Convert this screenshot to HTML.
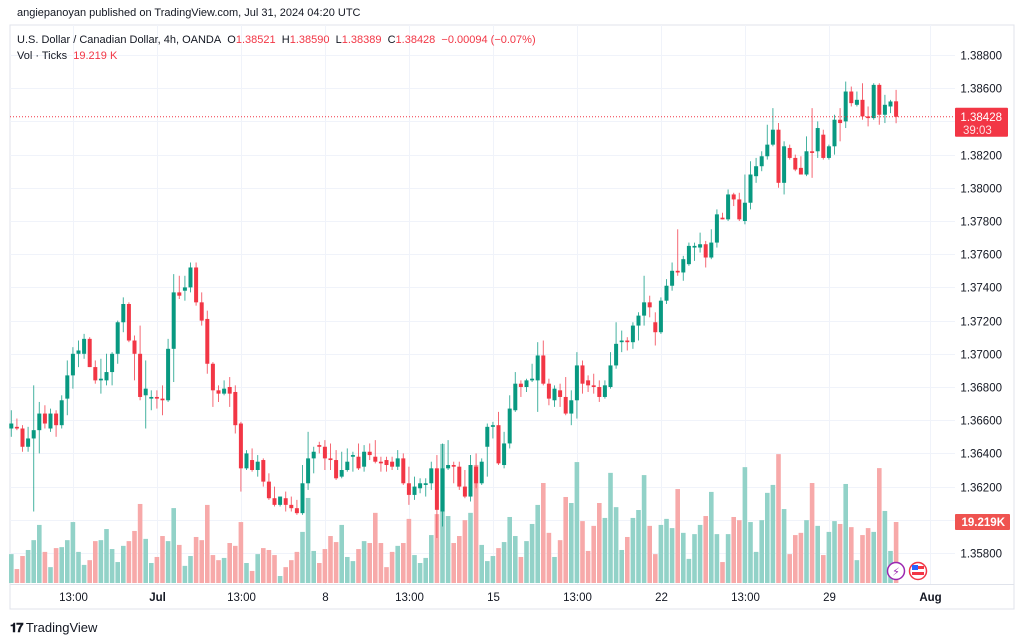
<!DOCTYPE html>
<html><head><meta charset="utf-8">
<style>
html,body{margin:0;padding:0;background:#fff;width:1024px;height:643px;overflow:hidden;font-family:"Liberation Sans",sans-serif;}
#wrap{position:relative;width:1024px;height:643px;}
.t{position:absolute;white-space:nowrap;}
</style></head>
<body><div id="wrap">
<div class="t" style="left:17px;top:7px;font-size:11px;color:#131722;">angiepanoyan published on TradingView.com, Jul 31, 2024 04:20 UTC</div>
<svg id="chart" width="1024" height="643" style="position:absolute;left:0;top:0"></svg>
<div class="t" style="left:17px;top:34px;font-size:11px;color:#131722;">U.S. Dollar / Canadian Dollar, 4h, OANDA&nbsp; O<span style="color:#f23645">1.38521</span>&nbsp; H<span style="color:#f23645">1.38590</span>&nbsp; L<span style="color:#f23645">1.38389</span>&nbsp; C<span style="color:#f23645">1.38428</span>&nbsp; <span style="color:#f23645">−0.00094 (−0.07%)</span></div>
<div class="t" style="left:17px;top:50px;font-size:11px;color:#131722;">Vol · Ticks&nbsp; <span style="color:#f23645">19.219 K</span></div>
<div class="t" style="left:10px;top:620px;font-size:13px;color:#131722;"><b style="font-size:13px;letter-spacing:-1px">𝟏𝟕</b> TradingView</div>
</div>
<script>
const opens=[1.3655,1.3656,1.3655,1.3644,1.3649,1.3654,1.3664,1.3655,1.3664,1.3657,1.3673,1.3687,1.3700,1.3700,1.3709,1.3692,1.3684,1.3684,1.3689,1.3700,1.3719,1.3730,1.3708,1.3700,1.3675,1.3673,1.3674,1.3673,1.3672,1.3703,1.3737,1.3738,1.3740,1.3752,1.3731,1.3721,1.3694,1.3678,1.3676,1.3680,1.3677,1.3658,1.3631,1.3636,1.3630,1.3636,1.3623,1.3613,1.3609,1.3613,1.3609,1.3607,1.3604,1.3622,1.3637,1.3645,1.3644,1.3637,1.3636,1.3626,1.3630,1.3638,1.3638,1.3632,1.3641,1.3638,1.3635,1.3636,1.3635,1.3632,1.3637,1.3622,1.3615,1.3619,1.3621,1.3622,1.3631,1.3605,1.3631,1.3633,1.3632,1.3620,1.3614,1.3632,1.3622,1.3644,1.3656,1.3657,1.3633,1.3646,1.3666,1.3682,1.3680,1.3684,1.3684,1.3699,1.3682,1.3672,1.3678,1.3674,1.3664,1.3672,1.3693,1.3684,1.3681,1.3680,1.3674,1.3680,1.3693,1.3707,1.3708,1.3707,1.3717,1.3723,1.3731,1.3719,1.3713,1.3732,1.3741,1.3750,1.3749,1.3754,1.3764,1.3764,1.3766,1.3758,1.3767,1.3782,1.3781,1.3796,1.3793,1.3780,1.3791,1.3807,1.3813,1.3819,1.3826,1.3835,1.3803,1.3824,1.3818,1.3812,1.3808,1.3822,1.3822,1.3832,1.3818,1.3825,1.3841,1.3840,1.3858,1.3850,1.3853,1.3843,1.3842,1.3862,1.3844,1.3849,1.38521];
const highs=[1.3666,1.3661,1.3657,1.3656,1.3681,1.3671,1.3669,1.3667,1.3666,1.3675,1.3696,1.3704,1.3708,1.3712,1.3710,1.3696,1.3697,1.3700,1.3701,1.3720,1.3734,1.3731,1.3711,1.3717,1.3696,1.3678,1.3678,1.3681,1.3709,1.3748,1.3747,1.3747,1.3755,1.3755,1.3737,1.3726,1.3695,1.3681,1.3684,1.3686,1.3681,1.3659,1.3642,1.3643,1.3639,1.3637,1.3628,1.3620,1.3614,1.3617,1.3614,1.3612,1.3633,1.3653,1.3644,1.3647,1.3648,1.3646,1.3642,1.3641,1.3643,1.3641,1.3646,1.3645,1.3646,1.3648,1.3638,1.3638,1.3638,1.3642,1.3640,1.3632,1.3626,1.3625,1.3625,1.3635,1.3639,1.3646,1.3648,1.3635,1.3635,1.3630,1.3639,1.3640,1.3637,1.3658,1.3659,1.3665,1.3653,1.3675,1.3689,1.3684,1.3685,1.3694,1.3707,1.3708,1.3685,1.3681,1.3682,1.3686,1.3678,1.3701,1.3696,1.3687,1.3688,1.3684,1.3684,1.3701,1.3719,1.3714,1.3710,1.3719,1.3725,1.3747,1.3735,1.3725,1.3734,1.3745,1.3755,1.3775,1.3759,1.3767,1.3767,1.3773,1.3768,1.3775,1.3787,1.3785,1.3799,1.3797,1.3797,1.3808,1.3816,1.3818,1.3822,1.3838,1.3848,1.3839,1.3828,1.3826,1.3820,1.3819,1.3831,1.3848,1.3840,1.3835,1.3826,1.3844,1.3848,1.3864,1.3861,1.3858,1.3863,1.3849,1.3863,1.3863,1.3856,1.3853,1.38590];
const lows=[1.3650,1.3654,1.3641,1.3641,1.3605,1.3640,1.3655,1.3653,1.3650,1.3655,1.3663,1.3679,1.3692,1.3697,1.3692,1.3682,1.3676,1.3681,1.3681,1.3694,1.3713,1.3707,1.3684,1.3672,1.3655,1.3666,1.3667,1.3663,1.3671,1.3683,1.3733,1.3732,1.3737,1.3729,1.3717,1.3688,1.3668,1.3671,1.3675,1.3668,1.3652,1.3617,1.3630,1.3629,1.3626,1.3620,1.3612,1.3608,1.3608,1.3605,1.3605,1.3603,1.3603,1.3618,1.3628,1.3640,1.3630,1.3630,1.3624,1.3625,1.3629,1.3629,1.3630,1.3629,1.3636,1.3634,1.3629,1.3629,1.3630,1.3630,1.3621,1.3609,1.3612,1.3616,1.3614,1.3618,1.3589,1.3596,1.3630,1.3622,1.3618,1.3613,1.3611,1.3619,1.3621,1.3626,1.3649,1.3633,1.3631,1.3643,1.3665,1.3674,1.3677,1.3683,1.3665,1.3681,1.3669,1.3668,1.3668,1.3663,1.3657,1.3661,1.3676,1.3677,1.3676,1.3671,1.3673,1.3679,1.3691,1.3701,1.3702,1.3703,1.3708,1.3717,1.3722,1.3705,1.3712,1.3730,1.3738,1.3747,1.3744,1.3753,1.3756,1.3761,1.3752,1.3757,1.3764,1.3781,1.3780,1.3789,1.3780,1.3778,1.3787,1.3803,1.3810,1.3817,1.3825,1.3800,1.3796,1.3817,1.3810,1.3808,1.3807,1.3806,1.3818,1.3817,1.3817,1.3820,1.3828,1.3836,1.3849,1.3849,1.3841,1.3837,1.3841,1.3838,1.3839,1.3845,1.38389];
const closes=[1.3658,1.3655,1.3644,1.3649,1.3654,1.3664,1.3658,1.3664,1.3657,1.3672,1.3687,1.3700,1.3702,1.3709,1.3692,1.3684,1.3685,1.3689,1.3700,1.3719,1.3730,1.3708,1.3700,1.3674,1.3679,1.3674,1.3673,1.3672,1.3703,1.3737,1.3735,1.3740,1.3752,1.3731,1.3720,1.3694,1.3678,1.3676,1.3679,1.3676,1.3657,1.3631,1.3640,1.3630,1.3635,1.3623,1.3613,1.3609,1.3614,1.3609,1.3607,1.3604,1.3622,1.3637,1.3641,1.3644,1.3637,1.3636,1.3625,1.3630,1.3635,1.3639,1.3631,1.3641,1.3639,1.3635,1.3634,1.3633,1.3632,1.3637,1.3622,1.3615,1.3620,1.3622,1.3622,1.3631,1.3606,1.3631,1.3633,1.3632,1.3620,1.3614,1.3633,1.3622,1.3635,1.3656,1.3657,1.3634,1.3646,1.3667,1.3682,1.3680,1.3684,1.3685,1.3699,1.3682,1.3673,1.3679,1.3674,1.3664,1.3672,1.3693,1.3682,1.3681,1.3680,1.3674,1.3681,1.3693,1.3706,1.3708,1.3707,1.3717,1.3723,1.3731,1.3728,1.3713,1.3732,1.3741,1.3750,1.3749,1.3757,1.3765,1.3765,1.3766,1.3758,1.3767,1.3784,1.3781,1.3796,1.3793,1.3781,1.3791,1.3808,1.3813,1.3819,1.3826,1.3835,1.3803,1.3825,1.3818,1.3811,1.3808,1.3822,1.3821,1.3836,1.3818,1.3825,1.3841,1.3839,1.3858,1.3851,1.3853,1.3843,1.3842,1.3862,1.3844,1.3850,1.3852,1.38428];
const volumes=[9.1,4.4,8.5,10.4,13.5,18.3,9.8,5.0,11.0,11.3,13.5,19.2,9.8,5.7,7.2,13.2,13.5,17.0,10.7,6.6,11.7,13.2,16.4,24.9,13.9,6.3,8.2,14.8,13.2,23.6,12.0,5.4,8.5,14.5,13.5,24.6,8.8,7.2,7.9,12.6,11.7,19.2,6.3,3.8,9.1,11.0,10.4,8.8,2.2,5.0,7.2,9.8,16.1,26.8,10.1,6.3,10.7,14.8,12.9,18.3,8.2,6.9,10.7,13.2,12.6,22.1,12.6,5.0,9.8,11.7,12.6,20.2,8.8,6.3,7.9,15.1,21.7,43.8,21.1,12.6,14.8,19.8,22.1,37.2,12.0,6.9,8.5,11.0,12.9,20.8,14.8,8.2,13.2,18.6,24.6,31.5,15.8,8.2,13.5,27.1,25.2,38.1,19.5,10.1,18.0,25.2,20.5,34.7,23.9,10.4,14.5,20.5,23.0,34.0,18.0,9.1,18.3,20.2,17.3,29.6,15.8,7.6,15.4,18.3,21.1,28.7,15.4,6.6,15.4,20.8,19.8,36.5,19.2,9.8,19.8,28.4,30.9,40.6,23.3,9.1,15.1,15.8,19.8,31.5,18.0,8.8,16.1,19.5,18.6,31.2,17.6,7.2,15.1,17.3,16.1,36.2,22.7,10.1,19.219];
const priceTicks=[1.388,1.386,1.384,1.382,1.380,1.378,1.376,1.374,1.372,1.370,1.368,1.366,1.364,1.362,1.360,1.358];
const timeLabels=["13:00","Jul","13:00","8","13:00","15","13:00","22","13:00","29","Aug"];
const timeLabelIdx=[11,26,41,56,71,86,101,116,131,146,164];
const boldLabels=["Jul","Aug"];

const NS="http://www.w3.org/2000/svg";
const svg=document.getElementById('chart');
function yP(p){return 55+(1.388-p)/0.002*33.2;}
function xI(i){return 11.3+5.6*i;}
function yV(v){return 583-v*3.174;}
function mk(tag,attrs,parent){const e=document.createElementNS(NS,tag);for(const k in attrs)e.setAttribute(k,attrs[k]);(parent||svg).appendChild(e);return e;}

const frame=mk('rect',{x:10,y:25,width:1004,height:584,fill:'none',stroke:'#e0e3eb','stroke-width':1});


const sep=mk('line',{x1:10,x2:1014,y1:584.5,y2:584.5,stroke:'#e0e3eb'});



priceTicks.forEach(p=>{
  const y=Math.round(yP(p))+0.5;
  const g=mk('line',{x1:10,x2:955,y1:y,y2:y,stroke:'#f0f3fa'});
  
  
  const t=mk('text',{x:1002,y:y+4,'text-anchor':'end','font-size':'11.5',fill:'#131722','font-family':'Liberation Sans, sans-serif'});
  t.textContent=p.toFixed(5);
  
  
});
timeLabelIdx.forEach((idx,k)=>{
  const x=Math.round(xI(idx))+0.5;
  const g=mk('line',{x1:x,x2:x,y1:25,y2:584,stroke:'#f0f3fa'});
  
  
  const t=mk('text',{x:x,y:601,'text-anchor':'middle','font-size':'11.5',fill:'#131722','font-weight':boldLabels.includes(timeLabels[k])?'bold':'normal','font-family':'Liberation Sans, sans-serif'});
  t.textContent=timeLabels[k];
  
  
});

volumes.forEach((v,i)=>{
  const up=closes[i]>=opens[i];
  const y=yV(v);
  const r=mk('rect',{x:xI(i)-2.3,y:y,width:4.6,height:583-y,fill:up?'#92d2c8':'#f7a9a9'});
  
  
});

closes.forEach((c,i)=>{
  const o=opens[i],up=c>=o,col=up?'#089981':'#f23645';
  const x=xI(i);
  const w=mk('line',{x1:x,x2:x,y1:yP(highs[i]),y2:yP(lows[i]),stroke:col,'stroke-width':1,opacity:0.75});
  
  
  const yt=yP(Math.max(o,c)),yb=yP(Math.min(o,c));
  const b=mk('rect',{x:x-2,y:yt,width:4,height:Math.max(1,yb-yt),fill:col});
  
  
});

const lastP=closes[closes.length-1];
const ly=yP(lastP);
const pl=mk('line',{x1:10,x2:955,y1:ly,y2:ly,stroke:'#f23645','stroke-dasharray':'1 2','stroke-width':1});


const lb=mk('rect',{x:955,y:ly-9,width:53,height:29,fill:'#f23645',rx:1});


const lt=mk('text',{x:1002,y:ly+4,'text-anchor':'end','font-size':'11.5',fill:'#fff','font-family':'Liberation Sans, sans-serif'});
lt.textContent=lastP.toFixed(5);


const ct=mk('text',{x:963,y:ly+17,'font-size':'11.5',fill:'#fde0e2','font-family':'Liberation Sans, sans-serif'});
ct.textContent='39:03';


const lastV=volumes[volumes.length-1];
const vy=yV(lastV);
const vb=mk('rect',{x:955,y:vy-8,width:55,height:16,fill:'#ef5350',rx:1});


const vt=mk('text',{x:1005,y:vy+4,'text-anchor':'end','font-size':'11.5','font-weight':'bold',fill:'#fff','font-family':'Liberation Sans, sans-serif'});
vt.textContent=lastV.toFixed(3)+'K';



const ic1=mk('circle',{cx:896,cy:571,r:8.5,fill:'#fff',stroke:'#9c27b0','stroke-width':1.5});


const ic1t=mk('text',{x:896,y:575.5,'text-anchor':'middle','font-size':'11',fill:'#9c27b0','font-family':'DejaVu Sans, sans-serif'});
ic1t.textContent='⚡';


const ic2=mk('circle',{cx:918,cy:571,r:8.5,fill:'#fff',stroke:'#f23645','stroke-width':1.5});


const f1=mk('rect',{x:912,y:566,width:12,height:3,fill:'#f23645'});


const f2=mk('rect',{x:912,y:572,width:12,height:3,fill:'#f23645'});


const f3=mk('rect',{x:912,y:565,width:6,height:5,fill:'#2962ff'});


</script>
</body></html>
